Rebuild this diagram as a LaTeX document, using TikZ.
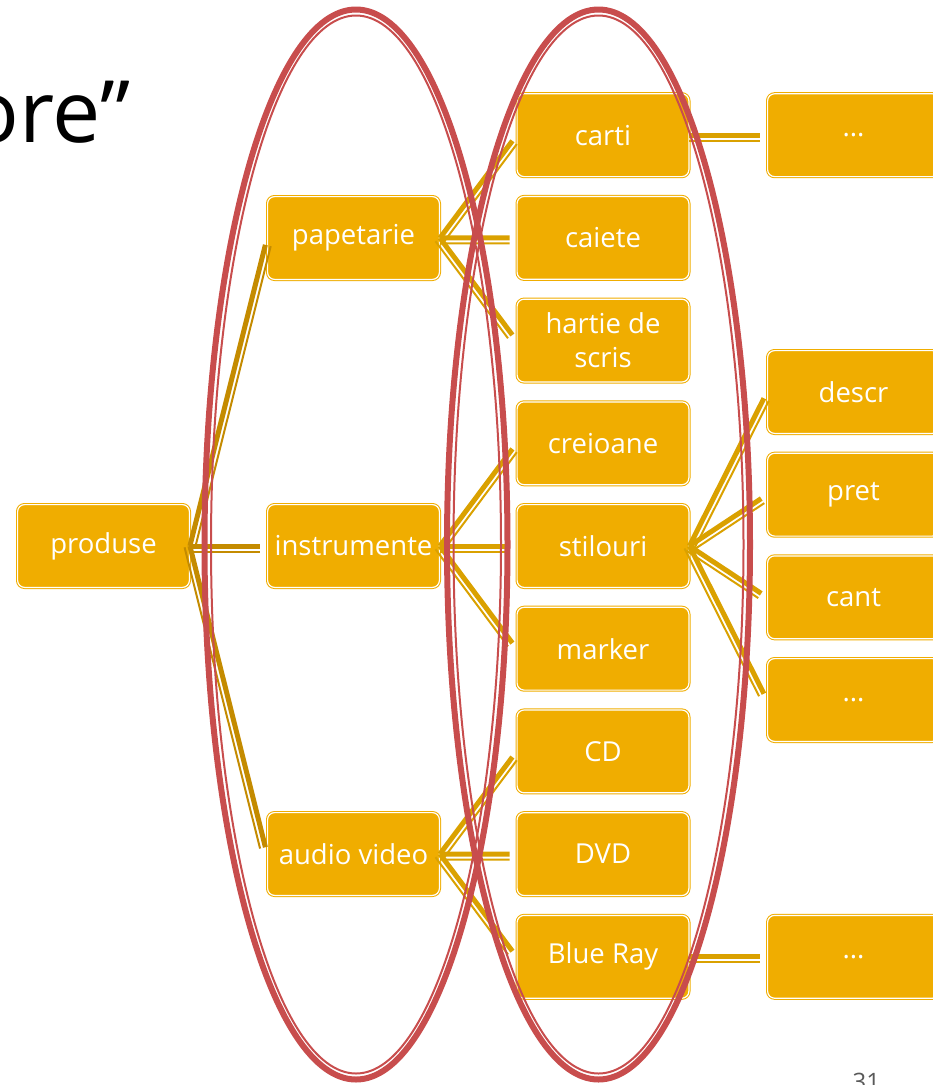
\documentclass[tikz,border=0pt]{standalone}
\usepackage{fontspec}
\setmainfont{Open Sans}
\usetikzlibrary{calc}
\definecolor{aur}{RGB}{240,173,0}
\definecolor{aurinchis}{RGB}{196,139,0}
\definecolor{aurmediu}{RGB}{218,161,0}
\definecolor{rosu}{RGB}{200,77,77}
\definecolor{gripag}{RGB}{89,89,89}

\begin{document}
\begin{tikzpicture}[x=1pt,y=-1pt,
  cutie/.style={draw=aur, double=white, line width=1pt, double distance=1.2pt,
    fill=aur, rounded corners=7pt, minimum width=171.8pt, minimum height=82.8pt,
    inner sep=2pt, text=white, align=center, font=\fontsize{27.5}{34}\selectfont},
  elipsa/.style={draw=rosu, line width=6pt},
  elipsafina/.style={draw=rosu, line width=2pt}]
\useasboundingbox (0,0) rectangle (933,1085);
\newcommand\legatura[3]{
\path[draw=#1,line width=5pt,shorten >=7pt] (#2.east) -- (#3.west);
\path[draw=#1,line width=2pt,shorten >=7pt] ($(#2.east)!5.5pt!-90:(#3.west)$) -- ($(#3.west)!5.5pt!90:(#2.east)$);
}

% titlu si numar pagina
\node[anchor=base east, font=\fontsize{86}{90}\selectfont] (titlu) at (134,142) {ore”};
\node[anchor=base west, text=gripag, font=\fontsize{24}{28}\selectfont] (pagina) at (849,1090) {31};

% nivel 0 si 1
\node[cutie] (produse) at (103.5,546) {produse};
\node[cutie] (papetarie) at (353.5,238) {papetarie};
\node[cutie] (instrumente) at (353.5,546) {instrumente};
\node[cutie] (audio) at (353.5,854) {audio video};

% nivel 2
\node[cutie] (carti) at (603,135.2) {carti};
\node[cutie] (caiete) at (603,237.9) {caiete};
\node[cutie] (hartie) at (603,340.6) {hartie de\\scris};
\node[cutie] (creioane) at (603,443.3) {creioane};
\node[cutie] (stilouri) at (603,546) {stilouri};
\node[cutie] (marker) at (603,648.7) {marker};
\node[cutie] (cd) at (603,751.4) {CD};
\node[cutie] (dvd) at (603,854.1) {DVD};
\node[cutie] (bluray) at (603,956.8) {Blue Ray};

% nivel 3
\node[cutie] (puncte1) at (853.5,135.2) {...};
\node[cutie] (descr) at (853.5,392) {descr};
\node[cutie] (pret) at (853.5,494.7) {pret};
\node[cutie] (cant) at (853.5,597.3) {cant};
\node[cutie] (puncte2) at (853.5,700) {...};
\node[cutie] (puncte3) at (853.5,956.8) {...};

% legaturi
\legatura{aurinchis}{produse}{papetarie}
\legatura{aurinchis}{produse}{instrumente}
\legatura{aurinchis}{produse}{audio}
\legatura{aurmediu}{papetarie}{carti}
\legatura{aurmediu}{papetarie}{caiete}
\legatura{aurmediu}{papetarie}{hartie}
\legatura{aurmediu}{instrumente}{creioane}
\legatura{aurmediu}{instrumente}{stilouri}
\legatura{aurmediu}{instrumente}{marker}
\legatura{aurmediu}{audio}{cd}
\legatura{aurmediu}{audio}{dvd}
\legatura{aurmediu}{audio}{bluray}
\legatura{aurmediu}{carti}{puncte1}
\legatura{aurmediu}{stilouri}{descr}
\legatura{aurmediu}{stilouri}{pret}
\legatura{aurmediu}{stilouri}{cant}
\legatura{aurmediu}{stilouri}{puncte2}
\legatura{aurmediu}{bluray}{puncte3}

% elipsele
\path[elipsa] (356,544.5) ellipse [x radius=151.5pt, y radius=535pt];
\path[elipsafina] (356,544.5) ellipse [x radius=145pt, y radius=529pt];
\path[elipsa] (598.5,544.5) ellipse [x radius=151.5pt, y radius=535pt];
\path[elipsafina] (598.5,544.5) ellipse [x radius=145pt, y radius=529pt];
\end{tikzpicture}
\end{document}
